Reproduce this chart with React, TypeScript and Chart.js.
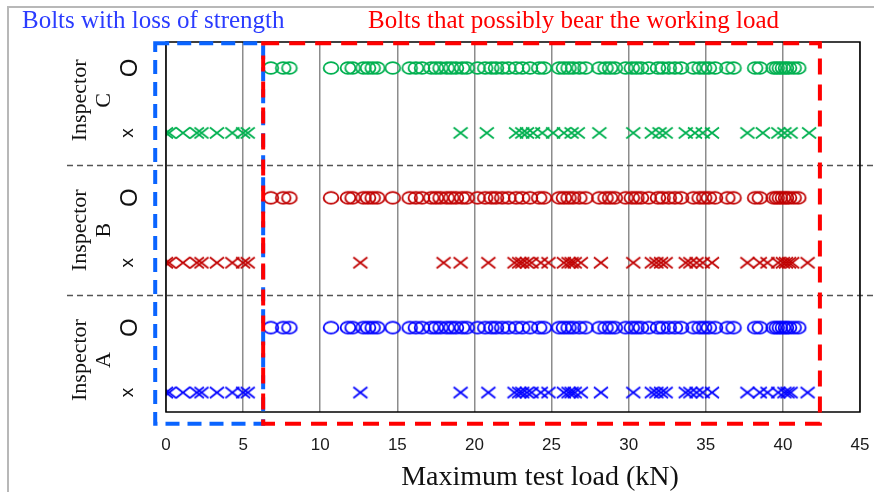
import React, { useEffect, useRef } from 'react';
import { Chart, registerables } from 'chart.js';
Chart.register(...registerables);

// ---------- data ----------
const xMin = 0;
const xMax = 45;
const xStep = 5;
const inspectors = ['A', 'B', 'C'];
const rowMarkLabels = ['x', 'O']; // lower row (cross), upper row (circle) per inspector
const separators = [2, 4];
const lossBoxRange = [-0.7, 6.3];
const loadBoxRange = [6.3, 42.4];
const topLeftText = 'Bolts with loss of strength';
const topRightText = 'Bolts that possibly bear the working load';
const xTitle = 'Maximum test load (kN)';

const circlesA = [6.8, 7.6, 8.0, 10.7, 11.8, 12.1, 12.8, 13.1, 13.4, 13.7, 14.7, 15.8, 16.2, 16.6, 17.2, 17.5, 17.8, 18.2, 18.5, 18.8, 19.2, 19.5, 20.2, 20.7, 21.1, 21.4, 21.8, 22.2, 22.7, 23.1, 23.6, 24.2, 24.5, 25.5, 25.8, 26.1, 26.4, 26.8, 27.2, 28.1, 28.5, 28.8, 29.1, 29.8, 30.2, 30.5, 30.8, 31.3, 31.9, 32.2, 32.6, 33.0, 33.4, 34.2, 34.6, 34.9, 35.2, 35.6, 36.4, 36.8, 38.2, 38.5, 39.4, 39.6, 39.8, 40.0, 40.2, 40.4, 40.7, 41.0];
const circlesB = [6.8, 7.6, 8.0, 10.7, 11.8, 12.1, 12.8, 13.1, 13.4, 13.7, 14.7, 15.8, 16.2, 16.6, 17.2, 17.5, 17.8, 18.2, 18.5, 18.8, 19.2, 19.5, 20.2, 20.7, 21.1, 21.4, 21.8, 22.2, 22.7, 23.1, 23.6, 24.2, 24.5, 25.5, 25.8, 26.1, 26.4, 26.8, 27.2, 28.1, 28.5, 28.8, 29.1, 29.8, 30.2, 30.5, 30.8, 31.3, 31.9, 32.2, 32.6, 33.0, 33.4, 34.2, 34.6, 34.9, 35.2, 35.6, 36.4, 36.8, 38.2, 38.5, 39.4, 39.6, 39.8, 40.0, 40.2, 40.4, 40.7, 41.0];
const circlesC = [6.8, 7.6, 8.0, 10.7, 11.8, 12.1, 12.8, 13.1, 13.4, 13.7, 14.7, 15.8, 16.2, 16.6, 17.2, 17.5, 17.8, 18.2, 18.5, 18.8, 19.2, 19.5, 20.2, 20.7, 21.1, 21.4, 21.8, 22.2, 22.7, 23.1, 23.6, 24.2, 24.5, 25.5, 25.8, 26.1, 26.4, 26.8, 27.2, 28.1, 28.5, 28.8, 29.1, 29.8, 30.2, 30.5, 30.8, 31.3, 31.9, 32.2, 32.6, 33.0, 33.4, 34.2, 34.6, 34.9, 35.2, 35.6, 36.4, 36.8, 38.2, 38.5, 39.4, 39.6, 39.8, 40.0, 40.2, 40.4, 40.7, 41.0];

const crossesA = [0, 0.2, 1.1, 2.0, 2.3, 3.3, 4.3, 5.0, 5.3, 12.6, 19.1, 20.9, 22.6, 22.9, 23.1, 23.4, 23.7, 24.3, 24.8, 25.8, 26.1, 26.3, 26.5, 26.9, 28.2, 30.3, 31.5, 31.8, 32.1, 32.4, 33.7, 34.0, 34.4, 34.8, 35.4, 37.7, 38.5, 39.0, 39.7, 40.1, 40.3, 40.5, 41.6];
const crossesB = [0, 0.2, 1.1, 2.0, 2.3, 3.3, 4.3, 5.0, 5.3, 12.6, 18.0, 19.1, 20.9, 22.6, 22.9, 23.1, 23.4, 23.7, 24.3, 24.8, 25.8, 26.1, 26.3, 26.5, 26.9, 28.2, 30.3, 31.5, 31.8, 32.1, 32.4, 33.7, 34.0, 34.4, 34.8, 35.4, 37.7, 38.5, 39.0, 39.7, 40.0, 40.2, 40.4, 40.6, 41.6];
const crossesC = [0, 0.2, 1.1, 2.0, 2.3, 3.3, 4.3, 5.0, 5.3, 19.1, 20.8, 22.7, 23.1, 23.4, 23.8, 24.4, 25.1, 25.8, 26.3, 26.7, 28.1, 30.3, 31.5, 32.0, 32.4, 33.7, 34.3, 34.8, 35.4, 37.7, 38.7, 39.7, 40.1, 40.5, 41.7];

const rowY = { crossA: 0.5, circleA: 1.5, crossB: 2.5, circleB: 3.5, crossC: 4.5, circleC: 5.5 };
const colorA = '#0000ff';
const colorB = '#c00000';
const colorC = '#00b050';

// ---------- markers ----------
function makeEllipse(color: string) {
  const c = document.createElement('canvas');
  c.width = 20; c.height = 16;
  const g = c.getContext('2d')!;
  g.strokeStyle = color; g.lineWidth = 1.8;
  g.beginPath(); g.ellipse(10, 8, 7.4, 5.8, 0, 0, Math.PI * 2); g.stroke();
  return c;
}
function makeCross(color: string) {
  const c = document.createElement('canvas');
  c.width = 20; c.height = 16;
  const g = c.getContext('2d')!;
  g.strokeStyle = color; g.lineWidth = 1.7;
  g.beginPath();
  g.moveTo(3, 2.5); g.lineTo(17, 13.5);
  g.moveTo(17, 2.5); g.lineTo(3, 13.5);
  g.stroke();
  return c;
}

function ds(values: number[], y: number, color: string, kind: 'o' | 'x') {
  return {
    label: `${kind}-${color}`,
    data: values.map((v) => ({ x: v, y })),
    pointStyle: kind === 'o' ? makeEllipse(color) : makeCross(color),
    pointRadius: 7,
    borderColor: color,
    backgroundColor: color,
    showLine: false,
  };
}

const serif = '"Liberation Serif", "Times New Roman", serif';
const sans = '"Liberation Sans", Arial, sans-serif';

const overlay = {
  id: 'overlay',
  beforeDatasetsDraw(chart: any) {
    const { ctx, scales: { y } } = chart;
    ctx.save();
    ctx.strokeStyle = '#555';
    ctx.lineWidth = 1.3;
    ctx.setLineDash([6, 4]);
    for (const v of separators) {
      const py = Math.round(y.getPixelForValue(v)) + 0.5;
      ctx.beginPath(); ctx.moveTo(67, py); ctx.lineTo(874, py); ctx.stroke();
    }
    ctx.restore();
  },
  afterDraw(chart: any) {
    const { ctx, chartArea: ca, scales: { x, y } } = chart;
    ctx.save();
    // outer frame
    ctx.strokeStyle = '#b8b8b8'; ctx.lineWidth = 2;
    ctx.beginPath(); ctx.moveTo(8, 492); ctx.lineTo(8, 7); ctx.lineTo(874, 7); ctx.stroke();
    // plot border
    ctx.strokeStyle = '#000'; ctx.lineWidth = 1.5;
    ctx.strokeRect(ca.left, ca.top, ca.right - ca.left, ca.bottom - ca.top);
    // dashed boxes
    const yTop = y.getPixelForValue(5.88);
    const yBot = y.getPixelForValue(0.02);
    ctx.lineWidth = 4;
    ctx.strokeStyle = '#0a64ff';
    ctx.setLineDash([14, 8]);
    const bl = x.getPixelForValue(lossBoxRange[0]);
    const br = x.getPixelForValue(lossBoxRange[1]);
    ctx.strokeRect(bl, yTop, br - bl, yBot - yTop);
    ctx.strokeStyle = '#ff0000';
    ctx.setLineDash([16, 10]);
    const rl = x.getPixelForValue(loadBoxRange[0]);
    const rr = x.getPixelForValue(loadBoxRange[1]);
    ctx.strokeRect(rl, yTop, rr - rl, yBot - yTop);
    ctx.setLineDash([]);
    // top texts
    ctx.textBaseline = 'middle';
    ctx.textAlign = 'left';
    ctx.font = `25px ${serif}`;
    ctx.fillStyle = '#2b3cff';
    ctx.fillText(topLeftText, 22, 21);
    ctx.fillStyle = '#ff0000';
    ctx.fillText(topRightText, 368, 21);
    // x title
    ctx.fillStyle = '#111';
    ctx.font = `28px ${serif}`;
    ctx.textAlign = 'center';
    ctx.fillText(xTitle, 540, 478);
    // y labels
    inspectors.forEach((name, i) => {
      const lowV = i * 2 + 0.5;
      const highV = i * 2 + 1.5;
      const cy = y.getPixelForValue(i * 2 + 1);
      ctx.fillStyle = '#111';
      ctx.font = `22px ${serif}`;
      ctx.save();
      ctx.translate(80, cy); ctx.rotate(-Math.PI / 2);
      ctx.textAlign = 'center'; ctx.textBaseline = 'middle';
      ctx.fillText('Inspector', 0, 0);
      ctx.restore();
      ctx.save();
      ctx.translate(104, cy); ctx.rotate(-Math.PI / 2);
      ctx.textAlign = 'center'; ctx.textBaseline = 'middle';
      ctx.fillText(name, 0, 0);
      ctx.restore();
      ctx.font = `19px ${sans}`;
      ctx.save();
      ctx.translate(128, y.getPixelForValue(lowV)); ctx.rotate(-Math.PI / 2);
      ctx.textAlign = 'center'; ctx.textBaseline = 'middle';
      ctx.fillText(rowMarkLabels[0], 0, 0);
      ctx.restore();
      ctx.font = `24px ${sans}`;
      ctx.save();
      ctx.translate(130, y.getPixelForValue(highV)); ctx.rotate(-Math.PI / 2);
      ctx.textAlign = 'center'; ctx.textBaseline = 'middle';
      ctx.fillText(rowMarkLabels[1], 0, 0);
      ctx.restore();
    });
    ctx.restore();
  },
};

export default function App() {
  const ref = useRef<HTMLCanvasElement>(null);
  useEffect(() => {
    if (!ref.current) return;
    const chart = new Chart(ref.current, {
      type: 'scatter',
      data: {
        datasets: [
          ds(circlesA, rowY.circleA, colorA, 'o'),
          ds(crossesA, rowY.crossA, colorA, 'x'),
          ds(circlesB, rowY.circleB, colorB, 'o'),
          ds(crossesB, rowY.crossB, colorB, 'x'),
          ds(circlesC, rowY.circleC, colorC, 'o'),
          ds(crossesC, rowY.crossC, colorC, 'x'),
        ] as any,
      },
      options: {
        animation: false,
        responsive: false,
        layout: { padding: { left: 166, top: 42, right: 14, bottom: 0 } },
        plugins: { legend: { display: false }, tooltip: { enabled: false } },
        scales: {
          x: {
            type: 'linear',
            min: xMin,
            max: xMax,
            afterFit: (s: any) => { s.height = 80; s.paddingLeft = 0; s.paddingRight = 0; },
            ticks: { stepSize: xStep, padding: 23, color: '#1a1a1a', font: { family: sans, size: 17 } },
            grid: { color: '#8c8c8c', lineWidth: 1.5, drawTicks: false },
            border: { display: false },
          },
          y: { type: 'linear', display: false, min: 0.2, max: 5.9 },
        },
      },
      plugins: [overlay],
    });
    return () => chart.destroy();
  }, []);
  return (
    <div style={{ position: 'absolute', left: 0, top: 0, width: 874, height: 492, background: '#fff' }}>
      <canvas ref={ref} width={874} height={492} style={{ display: 'block' }} />
    </div>
  );
}
